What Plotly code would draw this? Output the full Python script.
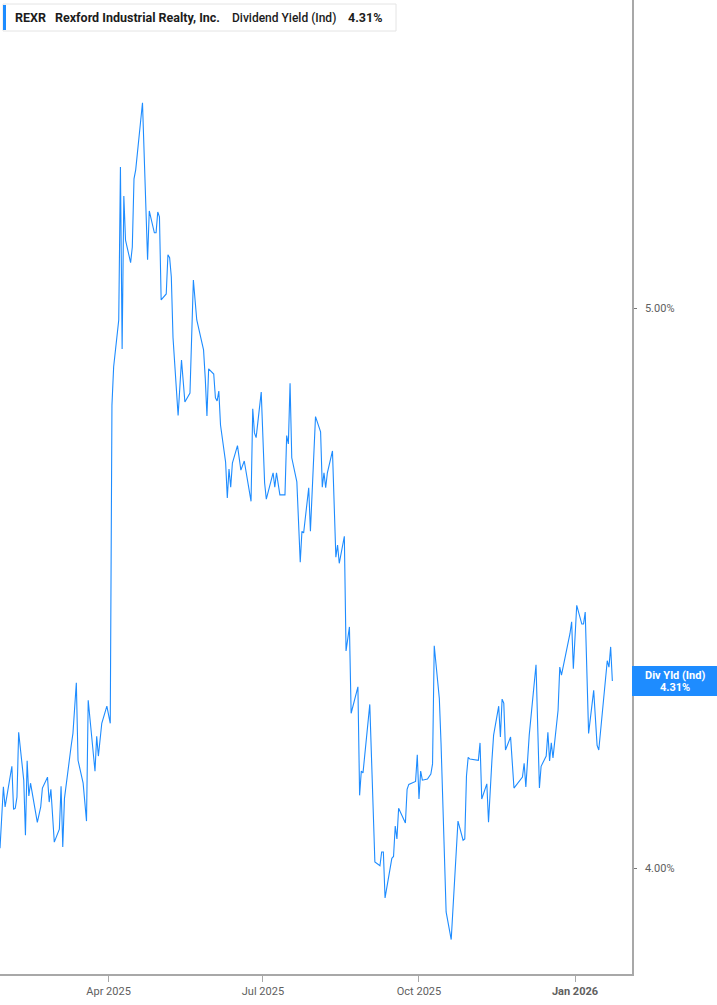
import math
import plotly.graph_objects as go

# ---- data ----
dates = [
    "2025-01-27", "2025-01-29", "2025-01-30", "2025-01-31", "2025-02-03", "2025-02-04", "2025-02-05",
    "2025-02-06", "2025-02-07", "2025-02-10", "2025-02-11", "2025-02-12", "2025-02-13", "2025-02-14",
    "2025-02-18", "2025-02-20", "2025-02-21", "2025-02-24", "2025-02-25", "2025-02-26", "2025-02-28",
    "2025-03-03", "2025-03-04", "2025-03-05", "2025-03-06", "2025-03-10", "2025-03-11", "2025-03-13",
    "2025-03-14", "2025-03-17", "2025-03-19", "2025-03-20", "2025-03-24", "2025-03-25", "2025-03-26",
    "2025-03-28", "2025-03-31", "2025-04-02", "2025-04-03", "2025-04-04", "2025-04-07", "2025-04-08",
    "2025-04-09", "2025-04-10", "2025-04-11", "2025-04-14", "2025-04-15", "2025-04-16", "2025-04-17",
    "2025-04-21", "2025-04-24", "2025-04-25", "2025-04-28", "2025-04-29", "2025-04-30", "2025-05-01",
    "2025-05-02", "2025-05-05", "2025-05-06", "2025-05-07", "2025-05-08", "2025-05-09", "2025-05-12",
    "2025-05-14", "2025-05-16", "2025-05-19", "2025-05-21", "2025-05-23", "2025-05-27", "2025-05-28",
    "2025-05-29", "2025-05-30", "2025-06-02", "2025-06-03", "2025-06-04", "2025-06-05", "2025-06-06",
    "2025-06-09", "2025-06-10", "2025-06-11", "2025-06-12", "2025-06-13", "2025-06-16", "2025-06-18",
    "2025-06-20", "2025-06-24", "2025-06-25", "2025-06-26", "2025-06-27", "2025-06-30", "2025-07-02",
    "2025-07-03", "2025-07-07", "2025-07-08", "2025-07-09", "2025-07-11", "2025-07-14", "2025-07-15",
    "2025-07-16", "2025-07-17", "2025-07-18", "2025-07-21", "2025-07-23", "2025-07-24", "2025-07-25",
    "2025-07-28", "2025-07-29", "2025-08-01", "2025-08-04", "2025-08-05", "2025-08-06", "2025-08-07",
    "2025-08-08", "2025-08-11", "2025-08-13", "2025-08-14", "2025-08-15", "2025-08-18", "2025-08-19",
    "2025-08-21", "2025-08-22", "2025-08-26", "2025-08-27", "2025-08-28", "2025-08-29", "2025-09-02",
    "2025-09-05", "2025-09-08", "2025-09-09", "2025-09-10", "2025-09-11", "2025-09-15", "2025-09-16",
    "2025-09-17", "2025-09-18", "2025-09-19", "2025-09-23", "2025-09-24", "2025-09-25", "2025-09-29",
    "2025-09-30", "2025-10-01", "2025-10-02", "2025-10-03", "2025-10-06", "2025-10-08", "2025-10-09",
    "2025-10-10", "2025-10-13", "2025-10-14", "2025-10-17", "2025-10-20", "2025-10-22", "2025-10-23",
    "2025-10-24", "2025-10-27", "2025-10-28", "2025-10-29", "2025-10-30", "2025-10-31", "2025-11-05",
    "2025-11-06", "2025-11-07", "2025-11-10", "2025-11-11", "2025-11-13", "2025-11-14", "2025-11-17",
    "2025-11-18", "2025-11-19", "2025-11-20", "2025-11-21", "2025-11-24", "2025-11-26", "2025-11-28",
    "2025-12-01", "2025-12-02", "2025-12-03", "2025-12-05", "2025-12-09", "2025-12-11", "2025-12-12",
    "2025-12-15", "2025-12-16", "2025-12-17", "2025-12-18", "2025-12-19", "2025-12-22", "2025-12-23",
    "2025-12-24", "2025-12-29", "2025-12-30", "2025-12-31", "2026-01-02", "2026-01-05", "2026-01-06",
    "2026-01-07", "2026-01-09", "2026-01-12", "2026-01-14", "2026-01-15", "2026-01-20", "2026-01-21",
    "2026-01-22", "2026-01-23",
]

div_yield = [
    4.032, 4.132, 4.099, 4.115, 4.166, 4.095, 4.097,
    4.115, 4.223, 4.143, 4.053, 4.175, 4.117, 4.138,
    4.074, 4.099, 4.130, 4.148, 4.107, 4.128, 4.042,
    4.063, 4.133, 4.034, 4.113, 4.201, 4.221, 4.307,
    4.176, 4.138, 4.076, 4.277, 4.158, 4.216, 4.183,
    4.238, 4.267, 4.238, 4.811, 4.885, 4.977, 5.290,
    4.920, 5.229, 5.138, 5.092, 5.124, 5.265, 5.284,
    5.427, 5.098, 5.198, 5.153, 5.153, 5.196, 5.186,
    5.017, 5.029, 5.108, 5.102, 5.063, 4.942, 4.791,
    4.898, 4.817, 4.834, 5.057, 4.977, 4.918, 4.863,
    4.790, 4.881, 4.871, 4.825, 4.819, 4.838, 4.773,
    4.703, 4.636, 4.690, 4.656, 4.701, 4.734, 4.688,
    4.705, 4.630, 4.804, 4.758, 4.749, 4.836, 4.664,
    4.634, 4.683, 4.656, 4.683, 4.642, 4.642, 4.753,
    4.737, 4.853, 4.711, 4.666, 4.519, 4.575, 4.572,
    4.655, 4.575, 4.789, 4.760, 4.656, 4.683, 4.655,
    4.683, 4.724, 4.528, 4.550, 4.517, 4.566, 4.362,
    4.404, 4.255, 4.300, 4.118, 4.158, 4.155, 4.270,
    4.010, 4.004, 4.026, 4.026, 3.953, 4.016, 4.019,
    4.068, 4.047, 4.097, 4.073, 4.128, 4.136, 4.141,
    4.185, 4.112, 4.158, 4.143, 4.145, 4.153, 4.170,
    4.371, 4.280, 4.205, 3.931, 3.888, 3.974, 4.018,
    4.076, 4.045, 4.047, 4.150, 4.181, 4.178, 4.176,
    4.205, 4.112, 4.137, 4.074, 4.176, 4.218, 4.267,
    4.215, 4.279, 4.272, 4.193, 4.215, 4.130, 4.138,
    4.148, 4.171, 4.132, 4.218, 4.338, 4.130, 4.166,
    4.183, 4.223, 4.175, 4.205, 4.180, 4.260, 4.334,
    4.320, 4.392, 4.413, 4.331, 4.442, 4.409, 4.409,
    4.430, 4.221, 4.294, 4.201, 4.193, 4.345, 4.334,
    4.369, 4.310,
]

x_tick_vals = ["2025-04-01", "2025-07-01", "2025-10-01", "2026-01-01"]
x_tick_text = ["Apr 2025", "Jul 2025", "Oct 2025", "<b>Jan 2026</b>"]
y_tick_vals = [4.0, 5.0]
y_tick_text = ["4.00%", "5.00%"]

ticker = "REXR"
company = "Rexford Industrial Realty, Inc."
metric = "Dividend Yield (Ind)"
last_label = "Div Yld (Ind)"
last_value = div_yield[-1]

LINE = "#1e8cff"
AXIS = "#a8a8a8"
TXT = "#606060"
FONT = "Roboto"

Y_LO = math.log10(3.835)
Y_HI = math.log10(5.654)

fig = go.Figure()
fig.add_trace(go.Scatter(
    x=dates, y=div_yield, mode="lines",
    line=dict(color=LINE, width=1.1),
    hoverinfo="skip", showlegend=False,
))

fig.update_layout(
    width=717, height=1005,
    margin=dict(l=0, r=85, t=0, b=31),
    paper_bgcolor="white", plot_bgcolor="white",
    font=dict(family=FONT, size=11, color=TXT),
    xaxis=dict(
        type="date",
        range=["2025-01-27", "2026-02-03 14:00"],
        tickvals=x_tick_vals, ticktext=x_tick_text,
        ticks="outside", ticklen=6, tickcolor=AXIS, tickwidth=1,
        showline=True, linecolor=AXIS, linewidth=1.5,
        showgrid=False, zeroline=False,
        tickfont=dict(family=FONT, size=11, color=TXT),
        fixedrange=True,
    ),
    yaxis=dict(
        type="log", side="right",
        range=[Y_LO, Y_HI],
        tickvals=y_tick_vals, ticktext=y_tick_text,
        ticks="outside", ticklen=3, tickcolor="#777", tickwidth=1,
        ticklabelstandoff=6,
        showline=True, linecolor=AXIS, linewidth=1.5,
        showgrid=False, zeroline=False,
        tickfont=dict(family=FONT, size=11, color=TXT),
        fixedrange=True,
    ),
)

# Header box (top-left)
fig.add_shape(type="rect", xref="paper", yref="paper",
              xsizemode="pixel", ysizemode="pixel", xanchor=0, yanchor=1,
              x0=3, x1=396, y0=-4, y1=-31,
              line=dict(color="#e4e4e4", width=1), fillcolor="white", layer="above")
fig.add_shape(type="rect", xref="paper", yref="paper",
              xsizemode="pixel", ysizemode="pixel", xanchor=0, yanchor=1,
              x0=3, x1=6, y0=-5, y1=-30,
              line=dict(width=0), fillcolor=LINE, layer="above")

header_parts = [
    (ticker, 13, 12.5, 700),
    (company, 53, 12.5, 700),
    (metric, 230, 12, 500),
    (f"{last_value:.2f}%", 346, 12.5, 700),
]
for text, xpx, size, weight in header_parts:
    fig.add_annotation(
        xref="paper", yref="paper", x=0, y=1, xanchor="left", yanchor="middle",
        xshift=xpx, yshift=-17.5, text=text, showarrow=False,
        font=dict(family=FONT, size=size, color="#1c1c1c", weight=weight),
    )

# Last value label on the right axis (positioned in paper coords from the log axis)
y_paper = (math.log10(last_value) - Y_LO) / (Y_HI - Y_LO)
fig.add_shape(type="rect", xref="paper", yref="paper",
              xsizemode="pixel", ysizemode="pixel", xanchor=1, yanchor=y_paper,
              x0=0, x1=86, y0=-15, y1=15,
              line=dict(width=0), fillcolor=LINE, layer="above")
fig.add_annotation(xref="paper", yref="paper", x=1, y=y_paper, xanchor="center", yanchor="middle",
                   xshift=42.5, yshift=6, text=last_label, showarrow=False,
                   font=dict(family=FONT, size=11, color="white", weight=700))
fig.add_annotation(xref="paper", yref="paper", x=1, y=y_paper, xanchor="center", yanchor="middle",
                   xshift=42.5, yshift=-6, text=f"{last_value:.2f}%", showarrow=False,
                   font=dict(family=FONT, size=11, color="white", weight=700))

fig.write_html("out.html", config={"displayModeBar": False},
               post_script="document.body.style.margin='0';")
